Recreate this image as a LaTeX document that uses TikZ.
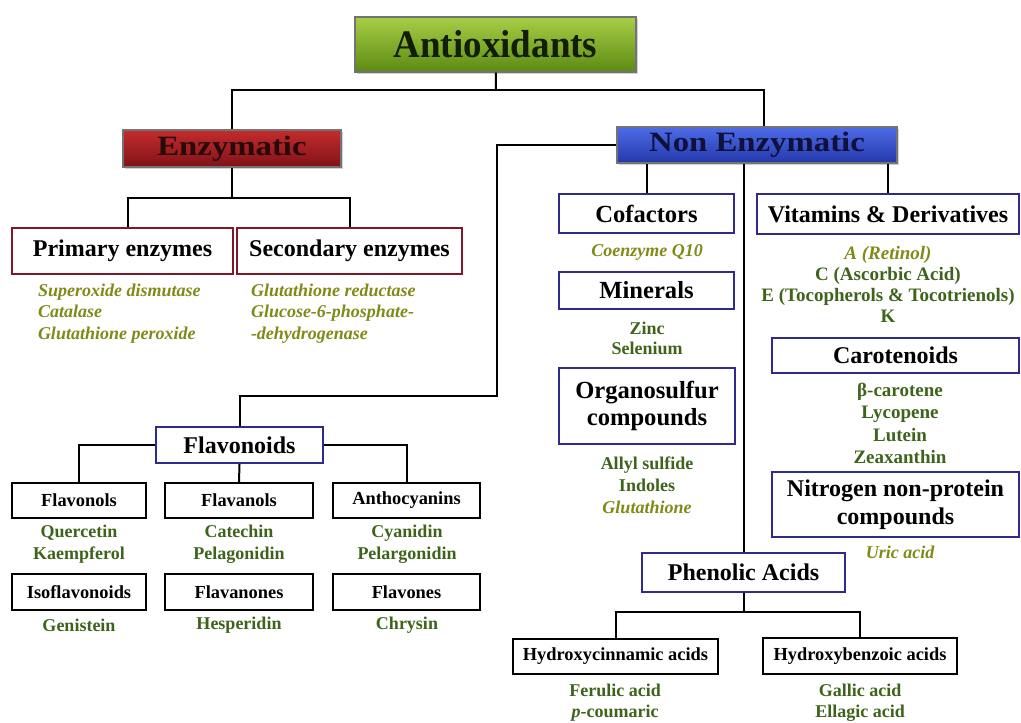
\documentclass[tikz,border=0pt]{standalone}
\usepackage{fontspec}
\setmainfont{Liberation Serif}
\usetikzlibrary{shadows}

\definecolor{leafgreen}{RGB}{62,100,28}
\definecolor{itemolive}{RGB}{128,138,22}
\definecolor{boxred}{RGB}{128,24,40}
\definecolor{boxblue}{RGB}{48,42,140}

\begin{document}
\begin{tikzpicture}[x=0.5pt,y=-0.5pt,line width=1pt,
	headbox/.style={draw=black!55, line width=0.6pt, inner sep=0pt, drop shadow={opacity=0.35, shadow xshift=1pt, shadow yshift=-1pt}},
	redbox/.style={draw=boxred, line width=1.1pt, inner sep=0pt, minimum height=23pt, font=\fontsize{12}{14}\selectfont\bfseries},
	bluebox/.style={draw=boxblue, line width=1.1pt, inner sep=0pt, align=center, font=\fontsize{12.3}{13.5}\selectfont\bfseries},
	smallbox/.style={draw=black, line width=1.2pt, inner sep=0pt, minimum height=17.5pt, font=\fontsize{9.2}{11}\selectfont\bfseries},
	greenlist/.style={inner sep=0pt, align=center, text=leafgreen, font=\fontsize{9}{11}\selectfont\bfseries},
	olivelist/.style={inner sep=0pt, align=left, text=itemolive, font=\fontsize{9}{10.75}\selectfont\bfseries\itshape}]
	\useasboundingbox[fill=white] (0,0) rectangle (1021,722);

	\node[headbox, top color={rgb,255:red,168;green,206;blue,70}, bottom color={rgb,255:red,92;green,138;blue,18}, minimum width=140.5pt, minimum height=27.5pt, font=\fontsize{19.5}{21}\selectfont\bfseries\addfontfeature{FakeStretch=0.95}, text={rgb,255:red,18;green,30;blue,8}] (anti) at (495.5,44.5) {Antioxidants};
	\node[headbox, top color={rgb,255:red,196;green,44;blue,44}, bottom color={rgb,255:red,128;green,18;blue,24}, minimum width=109pt, minimum height=18.5pt, font=\fontsize{14}{16}\selectfont\bfseries\addfontfeature{FakeStretch=1.17}, text={rgb,255:red,40;green,10;blue,10}] (enz) at (232,148.5) {Enzymatic};
	\node[headbox, top color={rgb,255:red,78;green,108;blue,232}, bottom color={rgb,255:red,36;green,56;blue,170}, minimum width=140pt, minimum height=18pt, font=\fontsize{14}{16}\selectfont\bfseries\addfontfeature{FakeStretch=1.17}, text={rgb,255:red,16;green,16;blue,60}] (nonenz) at (757,145) {Non Enzymatic};

	\node[redbox, minimum width=110.5pt] (prim) at (122.5,251) {Primary enzymes};
	\node[redbox, minimum width=112.5pt] (sec) at (349.5,251) {Secondary enzymes};
	\node[olivelist, anchor=west] (primlist) at (37,313.5) {Superoxide dismutase\\Catalase\\Glutathione peroxide};
	\node[olivelist, anchor=west] (seclist) at (250,313.5) {Glutathione reductase\\Glucose-6-phosphate-\\-dehydrogenase};

	\node[bluebox, minimum width=87.5pt, minimum height=19.5pt] (cof) at (646.5,213.5) {Cofactors};
	\node[olivelist, align=center] (coflist) at (647,252) {Coenzyme Q10};
	\node[bluebox, minimum width=87.5pt, minimum height=18.5pt] (min) at (646.5,290.5) {Minerals};
	\node[greenlist, font=\fontsize{9}{10}\selectfont\bfseries] (minlist) at (647,338) {Zinc\\Selenium};
	\node[bluebox, minimum width=88pt, minimum height=38pt] (orgs) at (647,406) {Organosulfur\\compounds};
	\node[greenlist] (orgslist) at (647,485) {Allyl sulfide\\Indoles\\{\color{itemolive}\itshape Glutathione}};

	\node[bluebox, minimum width=131pt, minimum height=20pt, font=\fontsize{12}{14}\selectfont\bfseries] (vit) at (888,214) {Vitamins \& Derivatives};
	\node[greenlist, font=\fontsize{9.5}{10.5}\selectfont\bfseries] (vitlist) at (888,284.5) {{\color{itemolive}\itshape A (Retinol)}\\C (Ascorbic Acid)\\E (Tocopherols \& Tocotrienols)\\K};
	\node[bluebox, minimum width=123.5pt, minimum height=17.5pt, font=\fontsize{12}{14}\selectfont\bfseries] (carot) at (895.5,355.5) {Carotenoids};
	\node[greenlist, font=\fontsize{9.5}{11.2}\selectfont\bfseries] (carotlist) at (900,423.5) {β-carotene\\Lycopene\\Lutein\\Zeaxanthin};
	\node[bluebox, minimum width=123.5pt, minimum height=32.5pt, font=\fontsize{12}{14}\selectfont\bfseries] (nitro) at (895.5,504.5) {Nitrogen non-protein\\compounds};
	\node[olivelist, align=center] (nitrolist) at (900,552) {Uric acid};

	\node[bluebox, minimum width=101.5pt, minimum height=19.5pt, font=\fontsize{12}{14}\selectfont\bfseries] (phen) at (743.5,572.5) {Phenolic Acids};
	\node[smallbox, minimum width=102.5pt] (hcin) at (615.5,656.5) {Hydroxycinnamic acids};
	\node[smallbox, minimum width=97pt, minimum height=18pt] (hben) at (860,656) {Hydroxybenzoic acids};
	\node[greenlist, font=\fontsize{9}{10.5}\selectfont\bfseries] (hcinlist) at (615,702.5) {Ferulic acid\\\textit{p}-coumaric};
	\node[greenlist, font=\fontsize{9}{10.5}\selectfont\bfseries] (hbenlist) at (860,702.5) {Gallic acid\\Ellagic acid};

	\node[bluebox, minimum width=83.5pt, minimum height=18pt, font=\fontsize{12}{14}\selectfont\bfseries] (flav) at (239.5,445) {Flavonoids};
	\node[smallbox, minimum width=67pt] (flavonols) at (79,500.5) {Flavonols};
	\node[smallbox, minimum width=74pt] (flavanols) at (239,500.5) {Flavanols};
	\node[smallbox, minimum width=73.5pt] (antho) at (406.5,500.5) {Anthocyanins};
	\node[greenlist] (flavonolslist) at (79,544) {Quercetin\\Kaempferol};
	\node[greenlist] (flavanolslist) at (239,544) {Catechin\\Pelagonidin};
	\node[greenlist] (antholist) at (407,544) {Cyanidin\\Pelargonidin};
	\node[smallbox, minimum width=67pt, minimum height=18pt] (iso) at (79,592) {Isoflavonoids};
	\node[smallbox, minimum width=74pt, minimum height=18pt] (flavanones) at (239,592) {Flavanones};
	\node[smallbox, minimum width=73.5pt, minimum height=18pt] (flavones) at (406.5,592) {Flavones};
	\node[greenlist] (isolist) at (79,625) {Genistein};
	\node[greenlist] (flavanoneslist) at (239,625) {Hesperidin};
	\node[greenlist] (flavoneslist) at (407,625) {Chrysin};

	\coordinate (split) at (496,90);
	\coordinate (enzsplit) at (232,198);
	\coordinate (elbow) at (497,396);
	\coordinate (phensplit) at (743.5,612);

	\draw (anti) -- (split);
	\draw (enz.north) |- (split) -| ([xshift=3.5pt]nonenz.north);
	\draw (enz) -- (enzsplit);
	\draw ([xshift=2.75pt]prim.north) |- (enzsplit) -| (sec.north);
	\draw (nonenz.west) -| (elbow) -| (flav.north);
	\draw (cof.north) -- (cof.north |- nonenz.south);
	\draw (vit.north) -- (vit.north |- nonenz.south);
	\draw (phen.north) -- (phen.north |- nonenz.south);
	\draw (phen) -- (phensplit);
	\draw (hcin.north) |- (phensplit) -| (hben.north);
	\draw (flav.west) -| (flavonols.north);
	\draw (flav.east) -| (antho.north);
	\draw (flav.south) -- (flavanols.north);
\end{tikzpicture}
\end{document}
